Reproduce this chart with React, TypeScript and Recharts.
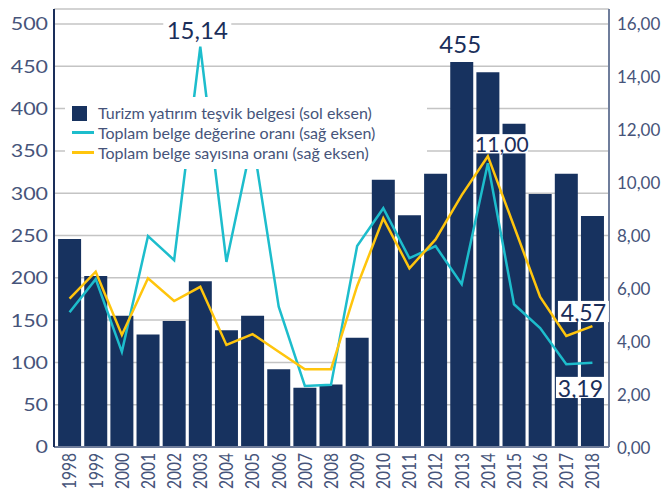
import React from 'react';
import { ComposedChart, Bar, Line, XAxis, YAxis, CartesianGrid, Legend } from 'recharts';

const years = ['1998','1999','2000','2001','2002','2003','2004','2005','2006','2007','2008','2009','2010','2011','2012','2013','2014','2015','2016','2017','2018'];
const belgeSayisi = [246,202,155,133,149,196,138,155,92,70,74,129,316,274,323,455,443,382,299,323,273];
const degerOrani = [5.10,6.35,3.60,7.98,7.07,15.14,7.00,11.67,5.31,2.31,2.35,7.60,9.03,7.14,7.60,6.16,10.73,5.40,4.50,3.13,3.19];
const sayiOrani = [5.61,6.63,4.24,6.38,5.52,6.06,3.86,4.27,3.60,2.94,2.94,6.09,8.65,6.76,7.85,9.53,11.00,8.35,5.68,4.20,4.57];
const leftTicks = [0,50,100,150,200,250,300,350,400,450,500];
const rightTicks = [0,2,4,6,8,10,12,14,16];
const seriesNames = ['Turizm yatırım teşvik belgesi (sol eksen)', 'Toplam belge değerine oranı (sağ eksen)', 'Toplam belge sayısına oranı (sağ eksen)'];

const NAVY = '#17325f';
const CYAN = '#1dbdcc';
const YELLOW = '#ffc50d';
const TEXT = '#46547a';
const LABEL = '#1a2e5a';
const FONT = 'Lato, "Noto Sans", sans-serif';

const data = years.map((y, i) => ({ year: y, belge: belgeSayisi[i], deger: degerOrani[i], sayi: sayiOrani[i] }));

const fmt2 = (v: number) => v.toFixed(2).replace('.', ',');

const ValueTag = ({ cx, baseline, text, size, w }: any) => (
  <g>
    <rect x={cx - w / 2} y={baseline - size * 0.86} width={w} height={size * 0.92} fill="#fff" />
    <text x={cx} y={baseline} textAnchor="middle" fontSize={size} fontFamily={FONT} fill={LABEL}>{text}</text>
  </g>
);

const cyanLabel = (p: any) => {
  const { x, y, index, value } = p;
  if (index === 5) return <ValueTag key="c5" cx={x - 3} baseline={y - 7.5} text={fmt2(value)} size={24} w={68} />;
  if (index === 20) return <ValueTag key="c20" cx={x - 12} baseline={y + 34} text={fmt2(value)} size={23} w={49} />;
  return null;
};

const yellowLabel = (p: any) => {
  const { x, y, index, value } = p;
  if (index === 16) return <ValueTag key="y16" cx={x + 14} baseline={y - 4} text={fmt2(value)} size={21} w={52} />;
  if (index === 20) return <ValueTag key="y20" cx={x - 9} baseline={y - 5.5} text={fmt2(value)} size={23} w={51} />;
  return null;
};

const barLabel = (p: any) => {
  const { x, y, width, index, value } = p;
  if (index === 15) return <text key="b15" x={x + width / 2 - 1.5} y={y - 9} textAnchor="middle" fontSize={24} fontFamily={FONT} fill={LABEL}>{value}</text>;
  return null;
};

const LeftTick = (p: any) => {
  const { x, y, payload } = p;
  return (
    <text transform={`translate(${x},${y}) scale(1.3,1)`} textAnchor="end" dominantBaseline="central" fontSize={16.5} fontFamily={FONT} fill={TEXT}>{payload.value}</text>
  );
};

const RightTick = (p: any) => {
  const { x, y, payload } = p;
  return (
    <text transform={`translate(${x},${y})`} textAnchor="start" dominantBaseline="central" fontSize={17} fontFamily={FONT} fill={TEXT}>{fmt2(payload.value)}</text>
  );
};

const BottomTick = (p: any) => {
  const { x, y, payload } = p;
  return (
    <text transform={`translate(${x - 1},${y}) rotate(-90) scale(1,1.3)`} textAnchor="end" dominantBaseline="central" fontSize={15.5} fontFamily={FONT} fill={TEXT}>{payload.value}</text>
  );
};

const renderLegend = () => {
  const colors = [NAVY, CYAN, YELLOW];
  return (
    <div style={{ background: '#fff', width: 362, height: 72, boxSizing: 'border-box', paddingTop: 6, fontFamily: FONT, fontSize: 16, color: TEXT }}>
      {seriesNames.map((n, i) => (
        <div key={n} style={{ display: 'flex', alignItems: 'center', height: 19.7, whiteSpace: 'nowrap' }}>
          <div style={{ width: 33, position: 'relative', height: 19.7, flexShrink: 0 }}>
            {i === 0 ? (
              <div style={{ position: 'absolute', left: 7, top: 2.5, width: 15, height: 15, background: colors[i] }} />
            ) : (
              <div style={{ position: 'absolute', left: 7, top: 8.5, width: 22, height: 3, background: colors[i] }} />
            )}
          </div>
          <span>{n}</span>
        </div>
      ))}
    </div>
  );
};

export default function App() {
  return (
    <div style={{ position: 'absolute', left: 0, top: 0, width: 662, height: 495, background: '#fff' }}>
      <ComposedChart width={662} height={495} data={data} margin={{ top: 9, right: 0, bottom: 0, left: 0 }} barCategoryGap={1.6}>
        <CartesianGrid yAxisId="left" vertical={false} stroke="#c4c4c4" strokeWidth={1.5} />
        <XAxis dataKey="year" height={48} tickSize={4} tickLine={false} interval={0} padding={{ left: 2.5, right: 3.5 }}
          axisLine={{ stroke: '#6f7d9b', strokeWidth: 2 }} tick={<BottomTick />} />
        <YAxis yAxisId="left" orientation="left" width={54} domain={[0, 517.73]} ticks={leftTicks} type="number"
          tickLine={false} tickSize={4} tickMargin={2} axisLine={{ stroke: '#1a2e5a', strokeWidth: 2 }} tick={<LeftTick />} />
        <YAxis yAxisId="right" orientation="right" width={53} domain={[0, 16.567]} ticks={rightTicks} type="number"
          tickLine={false} tickSize={6} tickMargin={2} axisLine={{ stroke: '#6f7d9b', strokeWidth: 2 }} tick={<RightTick />} />
        <Bar yAxisId="left" dataKey="belge" name={seriesNames[0]} fill={NAVY} isAnimationActive={false} label={barLabel} />
        <Line yAxisId="right" dataKey="deger" name={seriesNames[1]} type="linear" stroke={CYAN} strokeWidth={2.5} dot={false} isAnimationActive={false} label={cyanLabel} />
        <Line yAxisId="right" dataKey="sayi" name={seriesNames[2]} type="linear" stroke={YELLOW} strokeWidth={2.5} dot={false} isAnimationActive={false} label={yellowLabel} />
        <Legend layout="vertical" align="center" verticalAlign="middle" content={renderLegend}
          wrapperStyle={{ left: 65, top: 97, width: 362, height: 72 }} />
      </ComposedChart>
    </div>
  );
}
